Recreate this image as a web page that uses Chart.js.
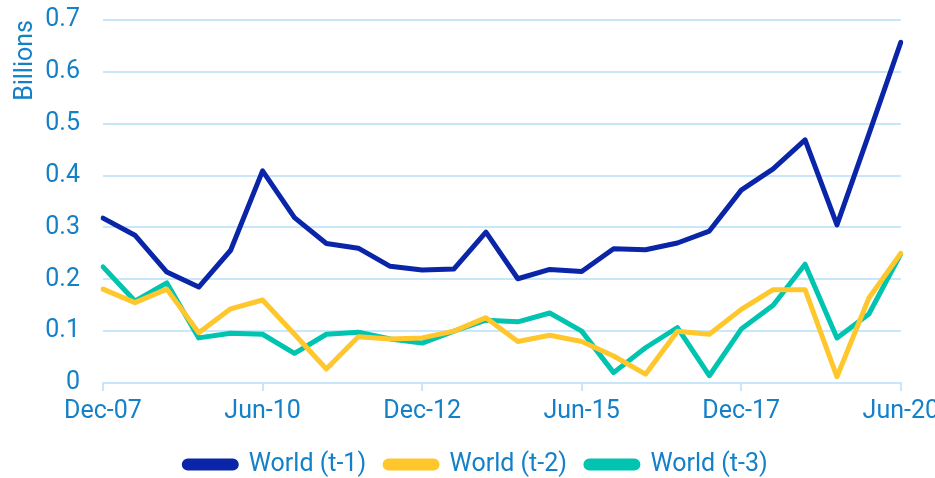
<!DOCTYPE html>
<html>
<head>
<meta charset="utf-8">
<script src="https://cdn.jsdelivr.net/npm/chart.js@4/dist/chart.umd.min.js"></script>
<style>
  html, body { margin: 0; padding: 0; background: #fff; overflow: hidden; }
  #wrap { width: 945px; height: 505px; margin-top: -18px; }
</style>
</head>
<body>
<div id="wrap"><canvas id="chart"></canvas></div>
<script>
// half-year periods, Dec-07 .. Jun-20
const periods = ["Dec-07","Jun-08","Dec-08","Jun-09","Dec-09","Jun-10","Dec-10","Jun-11","Dec-11","Jun-12",
                 "Dec-12","Jun-13","Dec-13","Jun-14","Dec-14","Jun-15","Dec-15","Jun-16","Dec-16","Jun-17",
                 "Dec-17","Jun-18","Dec-18","Jun-19","Dec-19","Jun-20"];

const worldT1 = [0.318,0.285,0.214,0.185,0.256,0.409,0.319,0.269,0.260,0.225,
                 0.218,0.220,0.291,0.201,0.219,0.215,0.259,0.257,0.270,0.293,
                 0.372,0.413,0.469,0.305,0.480,0.657];
const worldT2 = [0.181,0.155,0.181,0.097,0.143,0.160,0.094,0.027,0.089,0.085,
                 0.087,0.100,0.126,0.080,0.092,0.080,0.052,0.017,0.100,0.094,
                 0.142,0.180,0.180,0.012,0.164,0.250];
const worldT3 = [0.224,0.158,0.193,0.087,0.096,0.094,0.057,0.094,0.098,0.085,
                 0.077,0.100,0.121,0.118,0.135,0.100,0.020,0.068,0.107,0.014,
                 0.104,0.150,0.229,0.087,0.133,0.249];

const seriesNames = ["World (t-1)", "World (t-2)", "World (t-3)"];
const seriesColors = ["#0a25a8", "#ffc72c", "#00c4b0"];
const yTicks = [0, 0.1, 0.2, 0.3, 0.4, 0.5, 0.6, 0.7];

const textColor = "#1480c8";
const gridColor = "#c8e7fb";
const font = { family: "Roboto", size: 25 };

function makeSet(i, data) {
  return {
    label: seriesNames[i],
    data: data,
    borderColor: seriesColors[i],
    backgroundColor: seriesColors[i],
    borderWidth: 5,
    borderCapStyle: "round",
    borderJoinStyle: "round",
    pointRadius: 0,
    tension: 0,
    fill: false
  };
}

new Chart(document.getElementById("chart"), {
  type: "line",
  data: {
    labels: periods,
    datasets: [makeSet(0, worldT1), makeSet(1, worldT2), makeSet(2, worldT3)]
  },
  options: {
    responsive: true,
    maintainAspectRatio: false,
    animation: false,
    layout: { padding: { top: 0, left: 7, bottom: 0 } },
    plugins: {
      legend: {
        position: "bottom",
        labels: {
          color: textColor,
          font: font,
          boxWidth: 52,
          boxHeight: 7,
          useBorderRadius: true,
          borderRadius: 3.5,
          padding: 19
        }
      },
      tooltip: { enabled: false }
    },
    scales: {
      x: {
        offset: false,
        grid: {
          drawOnChartArea: false,
          drawTicks: true,
          tickLength: 8,
          lineWidth: 2,
          color: (ctx) => (ctx.index % 5 === 0 ? gridColor : "rgba(0,0,0,0)")
        },
        border: { display: true, color: gridColor, width: 2 },
        ticks: {
          autoSkip: false,
          maxRotation: 0,
          minRotation: 0,
          color: textColor,
          font: font,
          padding: 6,
          callback: (v, i) => (i % 5 === 0 ? periods[i] : "")
        }
      },
      y: {
        min: 0,
        max: 0.7,
        afterBuildTicks: (axis) => { axis.ticks = yTicks.map(v => ({ value: v })); },
        afterFit: (axis) => { axis.width = 96; },
        grid: { color: gridColor, lineWidth: 2, drawTicks: false },
        border: { display: false },
        ticks: {
          color: textColor,
          font: font,
          padding: 23,
          callback: (v) => String(Math.round(v * 10) / 10)
        },
        title: {
          display: true,
          text: "Billions",
          align: "end",
          color: textColor,
          font: font,
          padding: { top: 4, bottom: 2 }
        }
      }
    }
  }
});
</script>
</body>
</html>
